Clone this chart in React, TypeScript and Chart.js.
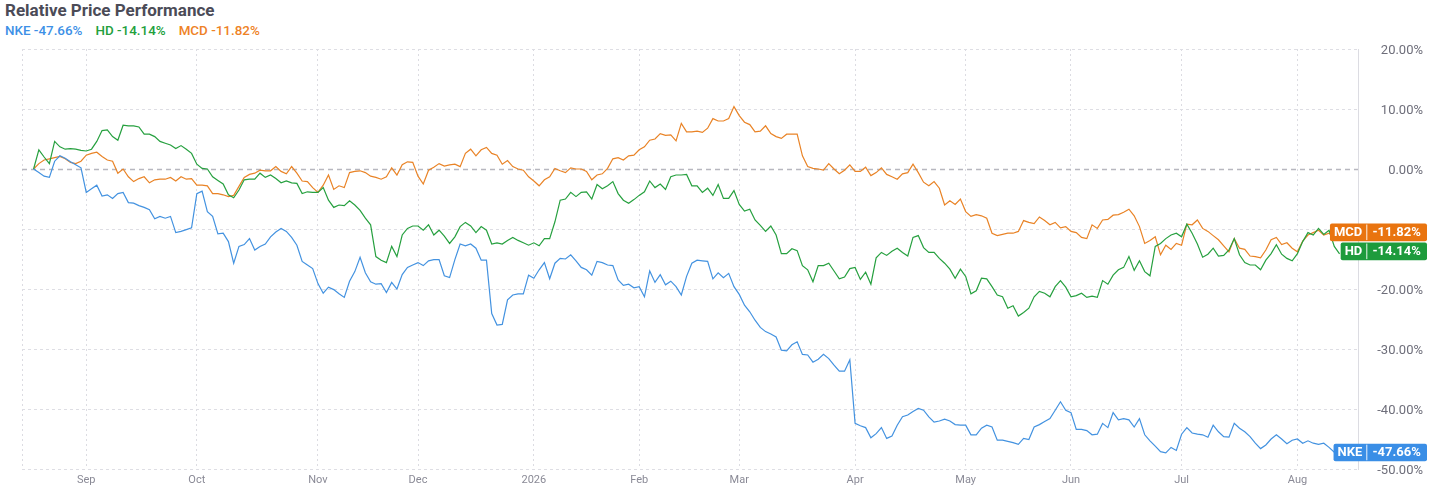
import React, { useEffect, useRef } from "react";
import { Chart, registerables } from "chart.js";

Chart.register(...registerables);

// Trading-day index of the first session of each month, and its label
const monthTickIndex = [10, 31, 54, 73, 95, 115, 134, 156, 177, 197, 218, 240];
const monthTickLabels = ["Sep", "Oct", "Nov", "Dec", "2026", "Feb", "Mar", "Apr", "May", "Jun", "Jul", "Aug"];

const yTicks = [20, 10, 0, -10, -20, -30, -40, -50];

const symbols = ["NKE", "HD", "MCD"];
const lastChange = [-47.66, -14.14, -11.82];

// Relative performance in %, one value per trading day
const nke = [
  0, -0.6, -1.2, -1.4, 1.3, 2.2, 1.8, 1.2, 0.7, 0.2,
  -3.9, -3.3, -2.7, -4.5, -4.3, -4.9, -4.1, -3.9, -5.6, -5.7,
  -6.1, -6.4, -6.8, -8.3, -7.9, -8.2, -7.9, -10.6, -10.4, -10.1,
  -9.8, -4.1, -3.7, -7.1, -7.9, -10.8, -10.7, -12.1, -15.7, -12.9,
  -12.6, -11.6, -13.5, -12.9, -12.5, -11.3, -10.5, -9.9, -10.4, -11.4,
  -12.7, -15.4, -16.0, -16.6, -19.1, -20.7, -19.7, -20.1, -20.8, -21.4,
  -18.7, -17.1, -14.7, -17.3, -18.8, -19.2, -19.1, -20.6, -18.9, -20.0,
  -17.6, -16.4, -16.0, -15.6, -16.1, -15.3, -15.1, -15.1, -17.8, -18.1,
  -15.1, -12.5, -12.8, -12.5, -13.2, -15.2, -15.2, -24.1, -26.0, -25.9,
  -21.8, -21.0, -20.8, -20.8, -17.7, -18.2, -16.8, -15.6, -18.3, -15.7,
  -14.9, -15.0, -14.3, -15.3, -16.4, -16.8, -17.7, -15.4, -15.6, -16.0,
  -16.1, -18.5, -19.4, -19.2, -19.8, -19.6, -21.3, -17.0, -18.9, -17.6,
  -19.3, -18.7, -19.6, -21.0, -17.9, -15.7, -15.2, -15.3, -15.4, -18.3,
  -17.3, -18.1, -17.4, -19.6, -20.9, -22.7, -23.8, -25.2, -26.4, -27.1,
  -27.5, -28.0, -30.2, -30.3, -29.3, -28.8, -30.9, -31.0, -32.2, -31.7,
  -30.9, -31.6, -32.7, -33.7, -33.7, -31.8, -42.4, -42.8, -43.1, -44.8,
  -44.1, -43.1, -44.9, -44.5, -42.7, -41.3, -41.0, -40.4, -39.9, -40.2,
  -41.3, -42.2, -42.0, -41.7, -42.0, -42.6, -42.7, -42.7, -44.3, -44.3,
  -43.2, -42.7, -43.0, -45.2, -45.2, -45.4, -45.6, -45.9, -44.9, -45.1,
  -43.0, -42.6, -42.1, -41.6, -40.2, -38.8, -40.2, -40.6, -43.4, -43.4,
  -43.6, -44.3, -44.2, -42.4, -43.1, -40.6, -41.8, -41.6, -41.8, -43.0,
  -41.6, -44.3, -45.3, -46.2, -47.1, -47.3, -46.4, -46.9, -44.2, -43.1,
  -44.0, -44.2, -44.3, -44.7, -42.7, -43.8, -44.6, -44.7, -42.4, -43.2,
  -43.8, -44.6, -45.7, -46.6, -46.0, -45.0, -44.3, -45.0, -45.8, -45.2,
  -45.0, -45.7, -45.3, -45.7, -45.9, -45.7, -46.4, -47.2, -47.66,
];

const hd = [
  0, 3.2, 2.0, 0.9, 4.6, 3.7, 3.3, 3.4, 3.3, 3.1,
  3.0, 3.3, 4.6, 6.4, 6.5, 5.4, 4.8, 7.3, 7.2, 7.2,
  7.0, 5.8, 5.8, 5.4, 4.6, 4.3, 4.0, 3.4, 3.9, 3.3,
  2.6, 0.8, 0.1, 0, -1.3, -1.9, -2.5, -4.3, -4.8, -3.5,
  -1.8, -1.7, -1.7, -0.7, -1.4, -1.0, -1.6, -2.3, -2.0, -2.3,
  -2.4, -4.1, -3.8, -3.9, -3.9, -3.1, -5.2, -6.4, -6.0, -6.1,
  -5.3, -6.0, -6.9, -8.2, -9.3, -14.6, -15.2, -15.6, -12.9, -14.6,
  -11.0, -9.9, -9.5, -9.5, -10.2, -9.3, -11.0, -10.2, -11.2, -12.4,
  -11.3, -9.6, -8.9, -9.5, -10.6, -9.6, -10.2, -12.5, -12.3, -12.5,
  -11.9, -11.4, -11.9, -12.3, -12.7, -12.3, -12.8, -11.6, -11.6, -8.8,
  -5.2, -5.0, -3.9, -4.6, -3.9, -3.8, -5.0, -2.6, -3.3, -2.8,
  -2.1, -4.1, -5.2, -5.7, -5.1, -4.4, -3.8, -2.0, -3.1, -2.5,
  -3.4, -1.3, -1.0, -1.0, -0.9, -2.8, -2.8, -3.9, -3.2, -4.4,
  -2.6, -4.9, -4.9, -3.6, -5.9, -7.0, -6.7, -8.5, -9.4, -10.4,
  -9.5, -11.0, -14.1, -14.1, -13.3, -13.6, -16.1, -16.8, -18.8, -16.1,
  -16.1, -15.7, -17.0, -18.3, -18.0, -16.6, -16.4, -18.4, -17.2, -19.2,
  -14.8, -13.9, -14.4, -13.7, -13.2, -13.9, -14.5, -11.4, -11.1, -13.1,
  -13.9, -13.9, -14.9, -15.7, -16.7, -18.2, -16.7, -17.9, -20.8, -20.3,
  -18.2, -18.3, -19.6, -21.0, -21.3, -23.2, -22.8, -24.5, -23.9, -23.2,
  -21.3, -20.4, -20.7, -21.3, -19.6, -18.6, -19.7, -21.3, -21.1, -20.7,
  -21.4, -21.2, -21.4, -18.6, -19.2, -17.7, -16.8, -16.4, -14.6, -16.9,
  -15.3, -17.1, -17.8, -12.9, -12.4, -11.6, -11.0, -10.7, -11.3, -9.2,
  -10.7, -12.5, -14.7, -14.2, -13.2, -14.5, -14.4, -13.5, -11.6, -14.3,
  -15.6, -16.0, -16.0, -16.8, -15.2, -14.1, -12.6, -14.2, -14.9, -15.3,
  -14.1, -12.1, -10.6, -11.0, -9.9, -10.9, -10.2, -12.9, -14.14,
];

const mcd = [
  0, 0.9, 1.5, 1.7, 1.9, 2.1, 1.7, 1.1, 0.9, 1.3,
  2.3, 2.6, 2.8, 2.1, 1.5, 1.3, -0.7, 0, -1.3, -2.1,
  -1.6, -1.3, -2.3, -1.8, -1.7, -1.7, -1.4, -2.0, -1.3, -1.7,
  -1.6, -2.7, -2.7, -2.8, -4.1, -4.1, -4.3, -4.6, -4.4, -2.9,
  -1.4, -0.9, -0.7, -0.2, -0.3, -0.3, 0.4, -0.4, -0.8, 0.4,
  -0.7, -2.0, -2.1, -3.1, -3.9, -2.7, -1.0, -3.4, -2.8, -3.1,
  -0.6, -0.4, -0.3, -0.6, -1.2, -1.4, -1.7, -1.3, 0.2, -1.0,
  0.7, 1.2, 1.1, -1.2, -2.5, -0.2, 0.3, 0.9, 0.5, 0.7,
  0.8, 0.4, 2.6, 3.3, 2.2, 3.2, 3.6, 2.6, 2.3, 0.8,
  1.4, 0.4, 0, -0.2, -1.3, -2.0, -2.8, -1.8, -1.3, 0.1,
  -0.3, -0.6, 0.2, 0, 0, -0.4, -1.8, -1.0, -0.8, 0.1,
  1.7, 1.9, 1.5, 2.2, 2.3, 3.2, 3.7, 4.8, 5.0, 5.9,
  5.6, 5.7, 4.7, 7.6, 6.2, 6.2, 6.3, 6.1, 6.8, 8.4,
  8.0, 8.0, 8.4, 10.4, 8.9, 7.8, 7.4, 6.2, 6.3, 7.2,
  5.9, 5.4, 5.1, 5.8, 5.8, 5.8, 2.2, 0.4, 0.1, 0,
  -0.2, 0.9, 0, -0.8, -0.2, 0.7, -0.4, -0.4, 0.3, -1.1,
  -0.6, 0.2, -0.9, -1.3, -1.7, -0.8, -0.6, 0.8, -0.6, -2.2,
  -2.8, -2.1, -3.2, -6.0, -5.3, -5.9, -5.0, -7.1, -7.9, -7.6,
  -7.8, -8.2, -10.7, -11.1, -10.9, -10.7, -10.7, -10.4, -8.6, -8.9,
  -9.1, -8.0, -8.6, -9.3, -8.9, -9.8, -9.6, -10.4, -10.6, -11.4,
  -11.6, -9.3, -9.9, -8.5, -8.4, -7.7, -7.6, -7.2, -6.7, -7.8,
  -9.6, -12.4, -11.9, -11.3, -14.3, -12.7, -13.4, -12.4, -12.7, -9.2,
  -9.3, -8.5, -9.9, -10.4, -11.1, -11.8, -12.8, -13.8, -11.6, -13.2,
  -13.4, -14.5, -14.6, -14.8, -13.5, -11.8, -11.4, -12.6, -12.3, -13.2,
  -13.8, -12.0, -11.0, -10.6, -10.2, -11.0, -10.7, -11.4, -11.82,
];

const seriesValues = [nke, hd, mcd];
const lineColors = ["#4392e0", "#26a03f", "#e98326"];
const legendColors = ["#3d90e6", "#23a03c", "#ee8226"];
const boxColors = ["#3a8ee6", "#1d9b3c", "#e9740f"];

const FONT = "Roboto, 'Noto Sans', Arial, sans-serif";

const zeroLinePlugin = {
  id: "zeroLine",
  beforeDatasetsDraw(chart: any) {
    const ctx = chart.ctx;
    const area = chart.chartArea;
    const y = Math.round(chart.scales.y.getPixelForValue(0)) + 0.5;
    ctx.save();
    ctx.strokeStyle = "#b7b7bf";
    ctx.lineWidth = 1.5;
    ctx.setLineDash([5, 4]);
    ctx.beginPath();
    ctx.moveTo(area.left, y);
    ctx.lineTo(area.right, y);
    ctx.stroke();
    ctx.restore();
  },
};

const endLabelPlugin = {
  id: "endLabels",
  afterDraw(chart: any) {
    const ctx = chart.ctx;
    const area = chart.chartArea;
    const h = 17.6;
    const gap = 1.4;
    const right = area.right + 69;
    const valueW = 60.7;
    const items = chart.data.datasets.map((ds: any, i: number) => {
      const meta = chart.getDatasetMeta(i);
      const pt = meta.data[meta.data.length - 1];
      return { i, y: pt.y - 2.5 };
    });
    items.sort((a: any, b: any) => a.y - b.y);
    for (let k = items.length - 2; k >= 0; k--) {
      const limit = items[k + 1].y - h - gap;
      if (items[k].y > limit) items[k].y = limit;
    }
    ctx.save();
    ctx.font = `bold 13px ${FONT}`;
    ctx.textBaseline = "middle";
    items.forEach((it: any) => {
      const sym = symbols[it.i];
      const val = lastChange[it.i].toFixed(2) + "%";
      const symW = ctx.measureText(sym).width + 8;
      const left = right - valueW - symW;
      const top = it.y - h / 2;
      ctx.fillStyle = boxColors[it.i];
      ctx.beginPath();
      if (ctx.roundRect) ctx.roundRect(left, top, right - left, h, 2);
      else ctx.rect(left, top, right - left, h);
      ctx.fill();
      ctx.strokeStyle = "rgba(255,255,255,0.9)";
      ctx.lineWidth = 1;
      ctx.beginPath();
      ctx.moveTo(right - valueW + 0.5, top + 1);
      ctx.lineTo(right - valueW + 0.5, top + h - 1);
      ctx.stroke();
      ctx.fillStyle = "#ffffff";
      ctx.textAlign = "center";
      ctx.fillText(sym, left + symW / 2, it.y + 0.5);
      ctx.fillText(val, right - valueW / 2, it.y + 0.5);
    });
    ctx.restore();
  },
};

export default function App() {
  const canvasRef = useRef<HTMLCanvasElement | null>(null);

  useEffect(() => {
    if (!canvasRef.current) return;
    const chart = new Chart(canvasRef.current, {
      type: "line",
      data: {
        datasets: seriesValues.map((vals, i) => ({
          label: symbols[i],
          data: vals.map((v, idx) => ({ x: idx, y: v })),
          borderColor: lineColors[i],
          backgroundColor: lineColors[i],
          borderWidth: 1.2,
          pointRadius: 0,
          tension: 0,
          fill: false,
        })),
      },
      options: {
        animation: false,
        responsive: true,
        maintainAspectRatio: false,
        layout: { padding: { left: 22, top: 49, right: 7, bottom: 0 } },
        plugins: {
          legend: { display: false },
          tooltip: { enabled: false },
        },
        scales: {
          x: {
            type: "linear",
            min: -2.2,
            max: 251.5,
            afterBuildTicks(axis: any) {
              axis.ticks = [{ value: -2.2 }, ...monthTickIndex.map((v) => ({ value: v }))];
            },
            afterFit(axis: any) {
              axis.height = 26;
            },
            ticks: {
              autoSkip: false,
              maxRotation: 0,
              padding: 5,
              color: "#8a8a96",
              font: { family: FONT, size: 11 },
              callback(value: any) {
                const k = monthTickIndex.indexOf(value);
                return k >= 0 ? monthTickLabels[k] : "";
              },
            },
            grid: {
              color: "#dcdce2",
              lineWidth: 1,
              tickLength: 0,
              drawTicks: false,
            },
            border: { display: false, dash: [2, 3] },
          },
          y: {
            position: "right",
            min: -50,
            max: 20,
            afterBuildTicks(axis: any) {
              axis.ticks = yTicks.map((v) => ({ value: v }));
            },
            afterFit(axis: any) {
              axis.width = 65;
            },
            ticks: {
              crossAlign: "far",
              padding: 0,
              labelOffset: 1.5,
              color: "#6e6e7a",
              font: { family: FONT, size: 13 },
              callback(value: any) {
                return Number(value).toFixed(2) + "%";
              },
            },
            grid: {
              color: (c: any) => (c.tick && c.tick.value === 0 ? "rgba(0,0,0,0)" : "#dedee4"),
              lineWidth: 1,
              drawTicks: false,
              tickLength: 0,
            },
            border: { display: true, color: "#dcdce2", dash: [3, 3] },
          },
        },
      },
      plugins: [zeroLinePlugin, endLabelPlugin],
    } as any);
    return () => chart.destroy();
  }, []);

  return (
    <div style={{ position: "absolute", left: 0, top: 0, width: 1430, height: 495, background: "#fff", fontFamily: FONT }}>
      <div
        style={{
          position: "absolute",
          left: 5,
          top: 0,
          fontSize: 17,
          fontWeight: 700,
          lineHeight: "20px",
          color: "#4b4b57",
          whiteSpace: "nowrap",
        }}
      >
        Relative Price Performance
      </div>
      <div
        style={{
          position: "absolute",
          left: 5,
          top: 23,
          fontSize: 13.4,
          fontWeight: 500,
          lineHeight: "16px",
          whiteSpace: "nowrap",
          display: "flex",
          gap: 13,
        }}
      >
        {symbols.map((s, i) => (
          <span key={s} style={{ color: legendColors[i] }}>
            {s} {lastChange[i].toFixed(2)}%
          </span>
        ))}
      </div>
      <div style={{ position: "absolute", left: 0, top: 0, width: 1430, height: 495 }}>
        <canvas ref={canvasRef} />
      </div>
    </div>
  );
}
